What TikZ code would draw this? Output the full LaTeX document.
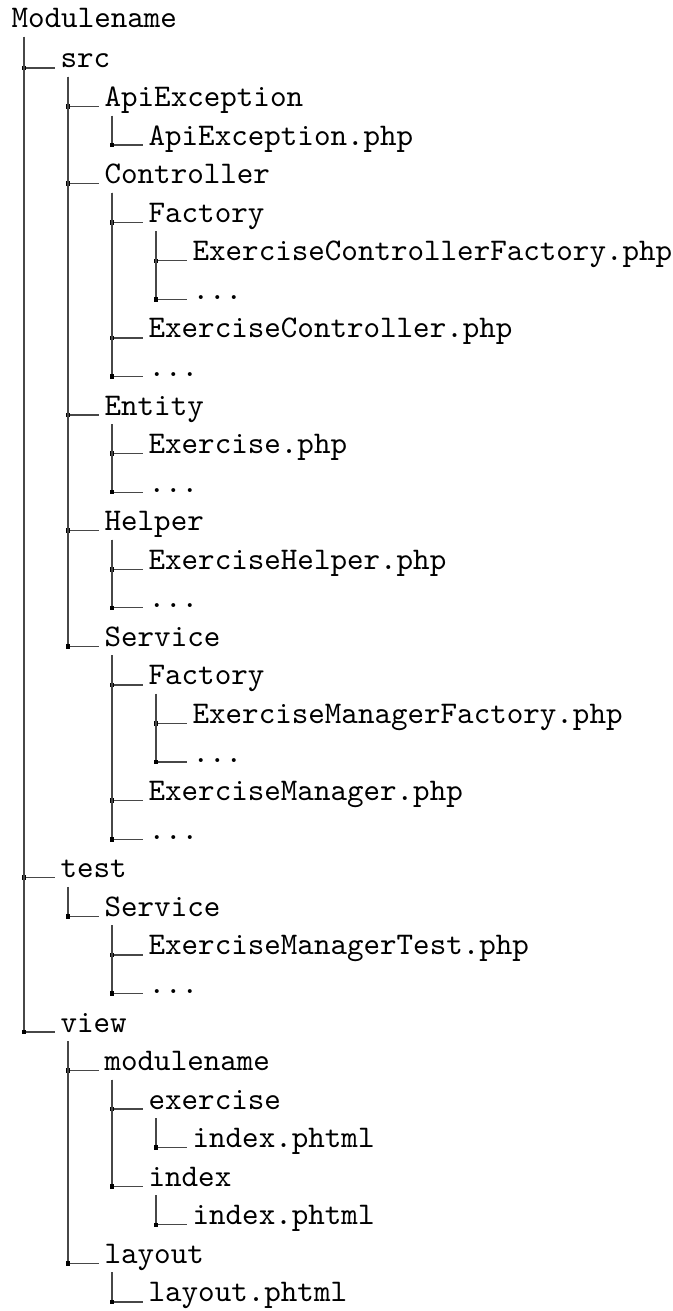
\documentclass[tikz,border=0pt]{standalone}
\newcommand\mydots{...}
\begin{document}
\begin{tikzpicture}[x=0.5pt,y=-0.5pt,
  item/.style={anchor=base west, inner sep=0pt, scale=1.575, transform shape, font=\ttfamily\fontsize{10}{12}\selectfont},
  conn/.style={draw=black!72, line width=0.65pt},
  junc/.style={fill=black, draw=none, minimum size=2.3pt, inner sep=0pt, outer sep=0pt, rectangle}]
\useasboundingbox (0,0) rectangle (673,1311);
\node[item] (n1) at (11,28) {Modulename};
\foreach \i/\L/\t in {2/1/src, 3/2/ApiException, 4/3/ApiException.php, 5/2/Controller,
  6/3/Factory, 7/4/ExerciseControllerFactory.php, 8/4/\mydots, 9/3/ExerciseController.php, 10/3/\mydots,
  11/2/Entity, 12/3/Exercise.php, 13/3/\mydots, 14/2/Helper, 15/3/ExerciseHelper.php, 16/3/\mydots,
  17/2/Service, 18/3/Factory, 19/4/ExerciseManagerFactory.php, 20/4/\mydots, 21/3/ExerciseManager.php,
  22/3/\mydots, 23/1/test, 24/2/Service, 25/3/ExerciseManagerTest.php, 26/3/\mydots, 27/1/view,
  28/2/modulename, 29/3/exercise, 30/4/index.phtml, 31/3/index, 32/4/index.phtml, 33/2/layout,
  34/3/layout.phtml}{
  \pgfmathsetmacro\yy{68+(\i-2)*38.56}
  \pgfmathsetmacro\xx{24+44*(\L-1)+36}
  \node[item] (n\i) at (\xx,\yy) {\t};
}
% vertical anchors of each parent
\coordinate (v1) at ([xshift=6.5pt]n1.base west);
\foreach \p in {2,3,5,6,11,14,17,18,23,24,27,28,29,31,33}{
  \coordinate (v\p) at ([xshift=4pt]n\p.base west);
}
\foreach \c/\p in {2/1,23/1,27/1, 3/2,5/2,11/2,14/2,17/2, 4/3, 6/5,9/5,10/5, 7/6,8/6,
  12/11,13/11, 15/14,16/14, 18/17,21/17,22/17, 19/18,20/18, 24/23, 25/24,26/24,
  28/27,33/27, 29/28,31/28, 30/29, 32/31, 34/33}{
  \draw[conn] ([yshift=-4.5pt]v\p) |- ([xshift=-2.3pt]n\c.base west);
  \node[junc] at (v\p |- n\c.base west) {};
}
\end{tikzpicture}
\end{document}
